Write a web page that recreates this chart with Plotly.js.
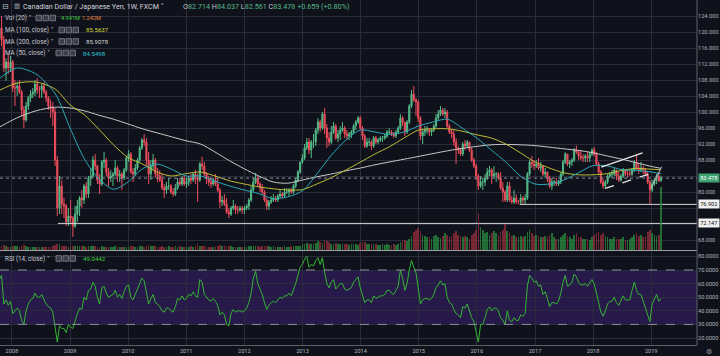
<!DOCTYPE html>
<html><head><meta charset="utf-8">
<script src="https://cdn.plot.ly/plotly-3.0.1.min.js"></script>
<style>html,body{margin:0;padding:0;background:#10121b;}#chart{width:720px;height:356px;}</style>
</head><body><div id="chart"></div>
<script>
// ---- bi-weekly OHLC (CAD/JPY), first bar 2007-10-15, every 14 days ----
const firstBar = '2007-10-15';
const openP = [
118.5,121.0,118.0,111.0,112.5,111.0,
112.5,106.0,106.0,106.5,105.0,100.5,98.0,101.5,103.5,104.5,105.0,107.0,105.5,105.5,106.5,105.0,103.5,101.5,101.0,100.0,88.0,76.0,81.5,77.0,76.5,72.5,
74.0,73.5,71.5,74.5,76.5,78.5,78.0,81.5,79.5,83.5,84.0,88.0,86.5,83.0,82.0,87.5,88.0,85.0,83.5,84.0,84.5,86.0,84.0,84.5,83.5,85.5,
88.5,89.5,85.0,84.5,86.0,88.0,91.0,93.0,92.5,88.0,84.5,86.5,88.0,84.5,84.0,83.0,81.0,80.5,81.5,81.5,80.0,79.5,81.0,82.5,82.0,83.5,
82.0,82.5,83.5,83.0,84.5,83.5,83.0,87.0,86.5,84.5,83.5,82.5,82.0,83.0,82.0,80.5,77.5,78.0,77.0,75.0,74.5,76.0,76.5,75.5,75.5,76.0,
75.5,76.0,76.5,78.0,80.5,82.5,83.5,82.0,81.0,80.0,78.0,76.5,77.5,78.0,78.5,78.0,79.0,79.5,79.0,80.0,80.0,80.5,80.0,81.5,83.0,85.0,
87.5,88.5,91.0,92.5,90.5,92.5,92.5,95.5,97.5,96.0,99.5,96.0,93.5,92.5,95.0,96.5,93.5,94.5,95.5,96.0,94.5,94.0,94.5,95.0,96.5,97.5,
98.5,96.0,94.0,91.5,92.5,92.5,91.5,93.5,92.5,93.0,93.5,93.5,94.0,95.0,95.0,94.5,94.0,95.0,96.0,98.5,97.5,95.0,97.5,101.5,104.5,103.0,
102.5,98.5,94.0,95.0,95.5,95.5,95.0,95.5,96.5,98.5,99.5,100.5,99.5,100.0,96.5,95.0,94.5,92.5,91.0,90.5,89.5,92.0,91.5,92.5,90.5,88.0,
86.5,84.0,81.5,82.5,82.5,83.5,85.0,85.5,84.0,84.5,84.5,83.5,81.0,80.0,78.0,81.5,78.0,77.5,78.5,77.5,77.5,78.5,78.0,78.5,84.5,87.5,
87.0,86.5,87.0,86.0,86.5,84.5,85.0,83.5,81.5,82.5,82.5,82.0,82.5,84.5,87.5,89.5,87.0,87.5,88.0,90.5,90.0,89.0,88.5,88.5,89.0,88.5,
89.5,90.5,89.5,87.0,85.0,82.5,81.5,82.5,84.0,84.5,84.5,85.5,84.0,83.0,84.0,85.5,84.5,84.5,84.5,85.5,87.5,86.0,85.5,86.0,85.5,84.5,
82.5,80.5,82.0,83.0,84.0,82.8];
const highP = [
121.5,124.0,119.0,113.5,114.5,114.0,
113.0,108.0,107.5,108.0,105.5,101.5,102.5,104.0,105.5,106.0,108.0,108.5,106.5,107.0,107.5,105.5,104.0,103.0,102.5,101.0,89.0,84.0,83.0,78.5,77.0,76.0,
78.0,74.0,76.5,78.0,79.0,80.5,82.0,82.5,84.0,86.0,89.0,89.5,86.8,84.5,88.0,90.0,88.5,86.0,85.5,85.0,88.0,86.5,85.5,85.0,86.0,89.0,
90.5,90.0,86.0,87.0,88.5,91.5,93.5,94.5,93.5,90.0,88.0,89.5,88.5,86.0,85.5,84.5,82.0,82.5,83.5,82.0,81.0,82.0,83.5,83.5,84.0,84.0,
83.5,84.0,84.5,85.0,85.5,84.5,87.5,88.8,87.5,85.0,84.0,83.5,83.5,84.5,83.5,81.0,79.0,79.5,78.5,76.0,76.5,78.0,77.0,76.5,76.5,76.5,
76.5,77.0,78.5,81.5,83.5,84.8,84.0,82.5,82.0,80.5,78.5,78.0,79.0,79.5,79.0,79.5,80.5,80.0,81.0,81.0,81.0,81.0,82.0,83.5,85.5,87.5,
89.5,92.0,93.5,93.5,93.0,94.5,96.0,98.5,98.0,100.0,101.0,97.0,95.0,96.5,97.5,97.0,95.5,96.5,97.5,96.5,95.5,95.0,95.5,97.0,98.0,99.0,
99.0,96.5,94.5,93.5,93.5,93.0,94.0,94.0,93.5,94.0,94.0,94.5,95.5,96.0,95.5,95.0,95.5,96.5,99.5,99.0,97.5,98.0,102.0,105.5,106.5,103.5,
103.0,99.0,95.5,96.5,96.5,96.0,96.0,97.0,99.5,100.5,101.5,101.0,101.0,100.5,97.0,95.5,95.5,93.5,91.5,91.0,92.5,93.0,93.0,92.5,91.0,88.5,
87.0,84.5,84.0,83.5,84.5,86.0,86.5,86.0,86.5,85.0,85.0,85.0,82.5,80.5,82.5,82.5,79.0,80.5,79.5,78.0,79.5,79.0,79.5,85.0,88.0,89.0,
88.0,88.0,88.5,87.5,86.5,86.0,85.0,84.0,83.5,83.0,83.5,83.0,85.0,88.0,90.0,89.5,88.0,88.5,91.0,91.6,90.5,90.5,89.5,89.5,90.0,90.0,
91.0,91.3,90.0,87.5,85.5,83.5,83.0,84.5,85.0,85.5,86.0,85.5,85.0,84.5,86.0,85.5,85.5,85.5,86.0,88.0,89.2,87.0,87.5,86.5,86.0,85.0,
83.0,83.0,83.5,84.5,85.0,84.037];
const lowP = [
117.5,116.5,110.0,107.8,109.5,110.0,
105.0,101.5,104.0,104.5,99.0,96.0,97.5,100.5,102.5,103.5,104.0,104.5,103.5,103.5,104.5,102.5,100.5,98.5,96.5,86.5,74.0,74.5,74.5,73.5,71.5,71.5,
72.0,68.8,71.0,72.5,74.0,76.0,77.0,78.5,78.5,81.5,83.5,85.5,82.0,79.5,81.5,86.0,84.0,81.5,82.5,81.5,84.0,82.5,82.5,80.5,83.0,85.0,
87.5,84.5,82.5,84.0,85.5,87.5,90.5,91.5,86.5,82.0,83.0,85.5,83.5,82.5,82.5,80.5,78.5,79.5,80.5,79.5,78.8,79.0,80.5,81.5,81.5,81.5,
81.0,81.5,82.0,82.5,82.0,77.5,82.5,85.5,84.0,82.0,81.5,81.0,81.5,81.5,80.0,76.0,76.5,76.5,74.5,73.5,74.0,75.5,74.5,74.5,75.0,74.5,
74.5,75.5,75.5,77.5,80.0,82.0,81.5,80.0,79.5,77.5,75.5,75.5,77.0,77.5,77.5,77.5,78.5,78.5,78.5,79.5,79.0,79.5,79.5,81.0,82.5,84.5,
87.0,88.0,90.5,89.5,88.5,91.0,91.5,94.5,95.0,95.5,94.5,91.0,91.5,92.0,94.5,93.0,92.5,93.0,95.0,93.5,93.0,93.0,93.5,94.5,95.5,97.0,
95.5,93.0,91.0,91.0,91.5,90.5,91.0,92.0,92.0,92.5,92.5,93.0,93.5,94.5,94.0,93.5,93.5,94.5,95.5,96.5,94.0,94.5,97.0,101.0,102.5,99.0,
97.5,93.0,92.0,94.0,94.5,94.0,94.0,95.0,96.0,98.0,99.0,99.0,98.5,96.0,94.5,93.5,91.5,87.0,89.5,89.0,89.0,90.5,91.0,90.0,87.5,86.0,
83.0,80.5,81.0,80.5,81.5,83.0,84.0,82.0,83.5,82.5,83.0,80.5,77.5,77.5,77.5,77.5,77.0,77.0,77.0,76.9,77.0,77.0,76.9,78.0,84.0,86.0,
85.5,86.0,85.5,85.0,84.0,83.5,82.5,81.0,80.5,81.5,81.5,81.5,82.0,84.0,87.0,86.5,86.0,86.5,87.5,89.5,88.0,88.0,87.5,87.5,87.5,87.5,
89.0,89.0,86.5,84.5,82.0,80.8,80.8,82.0,83.5,83.5,84.0,83.0,82.5,82.5,83.5,84.0,83.5,84.0,84.0,85.0,85.5,84.5,85.0,84.5,84.0,82.0,
76.9,80.0,81.5,82.0,82.5,82.561];
const closeP = [
121.0,118.0,111.0,112.5,111.0,112.5,
106.0,106.0,106.5,105.0,100.5,98.0,101.5,103.5,104.5,105.0,107.0,105.5,105.5,106.5,105.0,103.5,101.5,101.0,100.0,88.0,76.0,81.5,77.0,76.5,72.5,74.0,
73.5,71.5,74.5,76.5,78.5,78.0,81.5,79.5,83.5,84.0,88.0,86.5,83.0,82.0,87.5,88.0,85.0,83.5,84.0,84.5,86.0,84.0,84.5,83.5,85.5,88.5,
89.5,85.0,84.5,86.0,88.0,91.0,93.0,92.5,88.0,84.5,86.5,88.0,84.5,84.0,83.0,81.0,80.5,81.5,81.5,80.0,79.5,81.0,82.5,82.0,83.5,82.0,
82.5,83.5,83.0,84.5,83.5,83.0,87.0,86.5,84.5,83.5,82.5,82.0,83.0,82.0,80.5,77.5,78.0,77.0,75.0,74.5,76.0,76.5,75.5,75.5,76.0,75.5,
76.0,76.5,78.0,80.5,82.5,83.5,82.0,81.0,80.0,78.0,76.5,77.5,78.0,78.5,78.0,79.0,79.5,79.0,80.0,80.0,80.5,80.0,81.5,83.0,85.0,87.5,
88.5,91.0,92.5,90.5,92.5,92.5,95.5,97.5,96.0,99.5,96.0,93.5,92.5,95.0,96.5,93.5,94.5,95.5,96.0,94.5,94.0,94.5,95.0,96.5,97.5,98.5,
96.0,94.0,91.5,92.5,92.5,91.5,93.5,92.5,93.0,93.5,93.5,94.0,95.0,95.0,94.5,94.0,95.0,96.0,98.5,97.5,95.0,97.5,101.5,104.5,103.0,102.5,
98.5,94.0,95.0,95.5,95.5,95.0,95.5,96.5,98.5,99.5,100.5,99.5,100.0,96.5,95.0,94.5,92.5,91.0,90.5,89.5,92.0,91.5,92.5,90.5,88.0,86.5,
84.0,81.5,82.5,82.5,83.5,85.0,85.5,84.0,84.5,84.5,83.5,81.0,80.0,78.0,81.5,78.0,77.5,78.5,77.5,77.5,78.5,78.0,78.5,84.5,87.5,87.0,
86.5,87.0,86.0,86.5,84.5,85.0,83.5,81.5,82.5,82.5,82.0,82.5,84.5,87.5,89.5,87.0,87.5,88.0,90.5,90.0,89.0,88.5,88.5,89.0,88.5,89.5,
90.5,89.5,87.0,85.0,82.5,81.5,82.5,84.0,84.5,84.5,85.5,84.0,83.0,84.0,85.5,84.5,84.5,84.5,85.5,87.5,86.0,85.5,86.0,85.5,84.5,82.5,
80.5,82.0,83.0,84.0,82.8,83.478];
// volume (millions)
const volumeM = [
0.25,0.35,0.4,0.3,0.25,0.2,
0.3,0.35,0.3,0.25,0.3,0.4,0.3,0.25,0.2,0.2,0.25,0.2,0.2,0.25,0.2,0.2,0.25,0.25,0.3,0.4,0.5,0.45,0.35,0.3,0.3,0.2,
0.3,0.35,0.3,0.3,0.35,0.3,0.3,0.25,0.3,0.3,0.35,0.3,0.25,0.25,0.3,0.25,0.25,0.2,0.25,0.25,0.3,0.25,0.25,0.2,0.25,0.2,
0.25,0.3,0.3,0.25,0.25,0.3,0.3,0.25,0.35,0.4,0.35,0.3,0.3,0.25,0.25,0.3,0.25,0.25,0.3,0.25,0.25,0.3,0.25,0.3,0.25,0.2,
0.25,0.25,0.3,0.25,0.3,0.45,0.35,0.3,0.3,0.25,0.25,0.25,0.25,0.3,0.3,0.4,0.35,0.3,0.35,0.3,0.3,0.25,0.25,0.25,0.25,0.2,
0.25,0.25,0.3,0.3,0.35,0.3,0.3,0.25,0.3,0.35,0.3,0.3,0.25,0.3,0.25,0.25,0.25,0.25,0.3,0.25,0.25,0.3,0.3,0.3,0.35,0.35,
0.45,0.5,0.55,0.5,0.45,0.5,0.55,0.7,0.6,0.55,0.75,0.7,0.6,0.5,0.5,0.55,0.45,0.5,0.45,0.5,0.45,0.4,0.45,0.45,0.5,0.4,
0.55,0.6,0.65,0.5,0.45,0.5,0.5,0.45,0.4,0.4,0.45,0.4,0.45,0.4,0.4,0.45,0.4,0.45,0.6,0.7,0.8,0.7,0.9,1.1,1.4,1.6,
1.7,1.5,1.2,1.1,1.0,1.0,0.9,1.1,1.2,1.0,0.95,1.1,1.3,1.2,1.0,1.1,1.3,1.5,1.2,1.1,1.0,1.1,1.0,0.9,1.2,1.3,
1.6,2.9,1.8,1.6,1.3,1.4,1.2,1.3,1.5,1.3,1.2,1.4,1.6,2.0,1.5,1.3,1.1,1.2,1.0,1.0,1.1,1.0,1.1,1.4,1.6,1.3,
1.1,1.2,1.1,1.0,1.0,1.1,1.0,1.2,1.3,1.0,0.9,0.9,1.0,1.2,1.3,1.1,1.0,0.9,1.2,1.3,1.0,1.0,0.9,0.9,0.9,0.8,
1.0,1.2,1.3,1.4,1.2,1.3,1.1,1.0,0.9,0.9,1.0,0.9,0.9,0.9,1.0,0.8,0.8,0.9,1.0,1.2,1.3,1.1,1.2,1.0,1.1,1.4,
1.6,1.3,1.2,1.1,1.2,4.941];
// RSI(14)
const rsi = [
63,66,45,48,44,47,
38,40,42,40,33,30,40,45,48,49,53,50,50,52,48,45,43,42,39,26,17,29,27,27,24,30,
28,27,33,38,42,41,50,48,55,56,61,58,50,45,57,58,53,50,51,52,55,50,52,49,54,58,
59,50,48,52,56,61,64,62,52,45,49,52,46,45,43,40,39,42,42,40,39,43,49,48,51,48,
49,52,51,54,51,50,63,61,52,50,48,47,49,47,44,37,39,37,30,29,38,41,39,40,40,39,
40,42,46,53,64,69,60,56,52,46,41,44,46,47,46,48,50,49,51,51,53,51,55,60,66,72,
74,78,80,72,74,73,77,79,74,79,68,60,57,61,63,56,58,60,60,56,55,56,57,61,63,65,
57,52,46,48,48,46,51,49,50,51,51,52,55,55,53,52,55,58,70,64,55,60,70,77,72,68,
57,45,48,49,49,48,49,52,57,59,62,59,60,50,46,45,41,38,37,35,43,42,45,40,35,32,
24,17,30,30,35,41,43,40,42,42,40,35,33,30,40,33,32,35,33,33,37,36,38,58,66,64,
61,62,58,59,52,54,49,43,46,46,45,47,53,61,66,58,59,61,67,65,61,59,59,60,58,61,
63,60,52,46,39,36,40,45,47,47,50,46,44,47,51,48,48,48,55,61,55,52,52,47,42,36,
32,45,49,52,47,49.0442];
// moving averages (sampled)
const maDates = ['2007-10-19','2008-02-01','2008-06-01','2008-10-01','2009-01-01','2009-04-01','2009-07-01','2009-10-01',
'2010-01-01','2010-04-01','2010-07-01','2010-10-01','2011-01-01','2011-04-01','2011-07-01','2011-10-01',
'2012-01-01','2012-04-01','2012-07-01','2012-10-01','2013-01-01','2013-04-01','2013-07-01','2013-10-01',
'2014-01-01','2014-04-01','2014-07-01','2014-10-01','2015-01-01','2015-04-01','2015-07-01','2015-10-01',
'2016-01-01','2016-04-01','2016-07-01','2016-10-01','2017-01-01','2017-04-01','2017-07-01','2017-10-01',
'2018-01-01','2018-04-01','2018-07-01','2018-10-01','2019-01-01','2019-03-04'];
const ma50 = [108.5,111.0,109.5,104.5,96.0,88.3,83.3,80.7,82.5,85.8,87.0,85.7,84.0,84.0,82.7,81.5,
80.5,79.6,78.3,78.8,80.3,84.5,89.2,93.0,95.5,95.0,94.4,95.0,96.5,97.5,98.2,96.0,
93.5,90.5,87.5,84.0,82.0,82.0,83.0,84.8,86.6,86.5,85.6,85.4,85.0,84.5498];
const ma100 = [105.5,107.2,107.5,105.7,101.8,99.3,95.7,91.8,88.6,87.0,85.0,84.0,84.6,85.0,84.0,82.8,
82.0,81.3,80.8,80.5,80.6,82.0,83.6,85.5,87.5,89.5,91.3,93.5,95.5,95.8,95.8,95.2,
94.3,93.5,92.0,89.8,87.5,86.0,84.8,84.3,84.3,84.6,85.4,85.9,85.7,85.5637];
const ma200 = [96.3,98.5,100.3,101.2,101.0,100.3,99.2,98.2,97.0,95.8,94.8,93.8,92.8,92.0,90.0,87.8,
85.8,84.0,82.5,82.2,83.0,83.8,84.5,85.3,86.0,86.8,87.5,88.2,88.9,89.6,90.3,90.9,
91.4,91.8,91.9,91.8,91.6,91.2,90.8,90.4,89.8,89.0,88.2,87.3,86.4,85.9078];
// drawn trend lines and levels
const trendSolidX = ['2018-02-21','2018-11-08'], trendSolidY = [86.2, 89.8];
const trendDashX = ['2018-03-19','2018-12-20'], trendDashY = [80.9, 84.5];
const trendUpX = ['2018-12-31','2019-03-08'], trendUpY = [81.0, 86.3];
const levelValues = [76.902, 72.147];
const levelStarts = ['2016-09-27', '2008-10-17'];
const lastPrice = 83.478;
const yearLabels = ['2008','2009','2010','2011','2012','2013','2014','2015','2016','2017','2018','2019'];
const priceTicks = [68,72,76,80,84,88,92,96,100,104,108,112,116,120,124,128];
const rsiTicks = [20,30,40,50,60,70,80];

// ---------- build ----------
const xStart = '2007-10-19', xEnd = '2019-10-16';
const t0 = Date.UTC(2007, 9, 15);
const dates = closeP.map((_, i) => new Date(t0 + i * 14 * 86400000).toISOString().slice(0, 10));
const UP = '#53b987', DOWN = '#eb4d5c';
const volColors = closeP.map((c, i) => c >= openP[i] ? 'rgba(40,140,60,0.75)' : 'rgba(150,45,60,0.75)');

const traces = [
  {type:'bar', x:dates, y:volumeM, xaxis:'x', yaxis:'y2', marker:{color:volColors, line:{width:0}},
   width:14*86400000*0.75, hoverinfo:'skip'},
  {type:'scatter', mode:'lines', x:maDates, y:ma200, yaxis:'y', line:{color:'#c9c9c9', width:1, shape:'spline', smoothing:0.8}, hoverinfo:'skip'},
  {type:'scatter', mode:'lines', x:maDates, y:ma100, yaxis:'y', line:{color:'#bdbd35', width:1, shape:'spline', smoothing:0.8}, hoverinfo:'skip'},
  {type:'scatter', mode:'lines', x:maDates, y:ma50, yaxis:'y', line:{color:'#2aa9b8', width:1, shape:'spline', smoothing:0.8}, hoverinfo:'skip'},
  {type:'candlestick', x:dates, open:openP, high:highP, low:lowP, close:closeP, xaxis:'x', yaxis:'y',
   increasing:{line:{color:UP, width:1}, fillcolor:UP}, decreasing:{line:{color:DOWN, width:1}, fillcolor:DOWN},
   whiskerwidth:0, hoverinfo:'skip'},
  {type:'scatter', mode:'lines', x:trendSolidX, y:trendSolidY, yaxis:'y', line:{color:'#e6e6e6', width:1.3}, hoverinfo:'skip'},
  {type:'scatter', mode:'lines', x:trendDashX, y:trendDashY, yaxis:'y', line:{color:'#e6e6e6', width:1.3, dash:'dash'}, hoverinfo:'skip'},
  {type:'scatter', mode:'lines', x:trendUpX, y:trendUpY, yaxis:'y', line:{color:'#bfc2c9', width:1}, hoverinfo:'skip'},
  {type:'scatter', mode:'lines', x:[levelStarts[0], xEnd], y:[levelValues[0], levelValues[0]], yaxis:'y', line:{color:'#d6d6d6', width:1}, hoverinfo:'skip'},
  {type:'scatter', mode:'lines', x:[levelStarts[1], xEnd], y:[levelValues[1], levelValues[1]], yaxis:'y', line:{color:'#d6d6d6', width:1}, hoverinfo:'skip'},
  {type:'scatter', mode:'lines', x:dates, y:rsi, yaxis:'y3', line:{color:'#34b534', width:1}, hoverinfo:'skip'}
];

const W = 697, H = 345;
const px = x => x / W, py = y => 1 - y / H;
const FONT = 'Roboto, "DejaVu Sans", sans-serif';
const GRID = '#2a2d39', AX = '#b2b5be';

const ann = [];
function txt(x, y, text, color, size) {
  ann.push({xref:'paper', yref:'paper', x:px(x), y:py(y), xanchor:'left', yanchor:'middle', text:text,
    showarrow:false, font:{family:FONT, size:size || 6.3, color:color}, borderpad:0});
}
const LBL = '#c5c8d0', GREEN = '#53b987';
txt(1, 6, '⊟', '#b2b5be', 8);
txt(13, 6, '▥', '#b2b5be', 6.5);
txt(22, 6, 'Canadian Dollar / Japanese Yen, 1W, FXCM ˅', '#d1d4dc', 7.1);
const g = v => '<span style="color:' + GREEN + '">' + v + '</span>';
txt(182, 6, 'O' + g('82.714') + ' H' + g('84.037') + ' L' + g('82.561') + ' C' + g('83.478') + ' ' + g('+0.659 (+0.80%)'), LBL, 7.2);
txt(4, 18, 'Vol (20) ˅', LBL);
txt(59.5, 18, '4.941M', '#3fd13f', 5.6);
txt(81, 18, '1.242M', '#e8843a', 5.6);
txt(4, 30, 'MA (100, close) ˅', LBL);
txt(85, 30, '85.5637', '#d6d63a', 6.1);
txt(4, 41.5, 'MA (200, close) ˅', LBL);
txt(85, 41.5, '85.9078', '#d8d8d8', 6.1);
txt(4, 53, 'MA (50, close) ˅', LBL);
txt(82, 53, '84.5498', '#2ec4d4', 6.1);
txt(4, 258.5, 'RSI (14, close) ˅', LBL);
txt(82, 258.5, '49.0442', '#3fd13f', 6.1);
txt(705, 352, '⚙', '#9598a1', 7);

function box(v, text, bg, fg) {
  ann.push({xref:'paper', yref:'y', x:1, y:v, xanchor:'left', yanchor:'middle', xshift:0.5, text:text,
    showarrow:false, bgcolor:bg, borderpad:1.2, font:{family:FONT, size:5.6, color:fg}});
}
box(lastPrice, lastPrice.toFixed(3), '#3ea271', '#ffffff');
box(levelValues[0], levelValues[0].toFixed(3), '#f0f0f0', '#111111');
box(levelValues[1], levelValues[1].toFixed(3), '#f0f0f0', '#111111');

const shapes = [
  {type:'rect', xref:'paper', yref:'y3', x0:0, x1:1, y0:30, y1:70, fillcolor:'#271a4a', line:{width:0}, layer:'below'},
  {type:'line', xref:'paper', yref:'y3', x0:0, x1:1, y0:70, y1:70, line:{color:'#8d8f99', width:1, dash:'dash'}},
  {type:'line', xref:'paper', yref:'y3', x0:0, x1:1, y0:30, y1:30, line:{color:'#8d8f99', width:1, dash:'dash'}},
  {type:'line', xref:'paper', yref:'y', x0:0, x1:1, y0:lastPrice, y1:lastPrice, line:{color:'#8a8f99', width:1, dash:'dot'}},
  {type:'line', xref:'paper', yref:'paper', x0:0, x1:1, y0:py(250.5), y1:py(250.5), line:{color:'#9ea1aa', width:1}},
  {type:'line', xref:'paper', yref:'paper', x0:1, x1:1, y0:0, y1:1, line:{color:'#5d606b', width:1}}
];
function icons(x, y) {
  for (let i = 0; i < 3; i++) {
    shapes.push({type:'rect', xref:'paper', yref:'paper', x0:px(x + i*7), x1:px(x + i*7 + 5.5), y0:py(y + 2.8), y1:py(y - 2.8),
      fillcolor:'#3b3e48', line:{color:'#80838d', width:0.8}});
  }
}
icons(36, 18); icons(59, 30); icons(59, 41.5); icons(56, 53); icons(56, 258.5);

const layout = {
  width:720, height:356, margin:{l:0, r:23, t:0, b:11},
  paper_bgcolor:'#10121b', plot_bgcolor:'#10121b', showlegend:false, bargap:0,
  font:{family:FONT, color:AX},
  xaxis:{type:'date', range:[xStart, xEnd], anchor:'y3', tickvals:yearLabels.map(y => y + '-01-01'), ticktext:yearLabels,
    showgrid:true, gridcolor:GRID, gridwidth:1, ticks:'', tickfont:{size:5.6, color:AX}, showline:true, linecolor:'#5d606b',
    rangeslider:{visible:false}, zeroline:false, fixedrange:true},
  yaxis:{domain:[1 - 250/H, 1], range:[65.5, 128], side:'right', tickvals:priceTicks,
    ticktext:priceTicks.map(v => (v === 72 || v === 76 || v === 84) ? '' : v.toFixed(3)),
    showgrid:true, gridcolor:GRID, ticks:'', tickfont:{size:5.6, color:AX}, zeroline:false, showline:false},
  yaxis2:{overlaying:'y', range:[0, 19.6], visible:false, showgrid:false},
  yaxis3:{domain:[0, 1 - 251/H], range:[14.85, 83.97], side:'right', tickvals:rsiTicks, ticktext:rsiTicks.map(v => v.toFixed(4)),
    showgrid:true, gridcolor:GRID, ticks:'', tickfont:{size:5.6, color:AX}, zeroline:false},
  shapes:shapes, annotations:ann
};
Plotly.newPlot('chart', traces, layout, {staticPlot:true, displayModeBar:false});
</script></body></html>
